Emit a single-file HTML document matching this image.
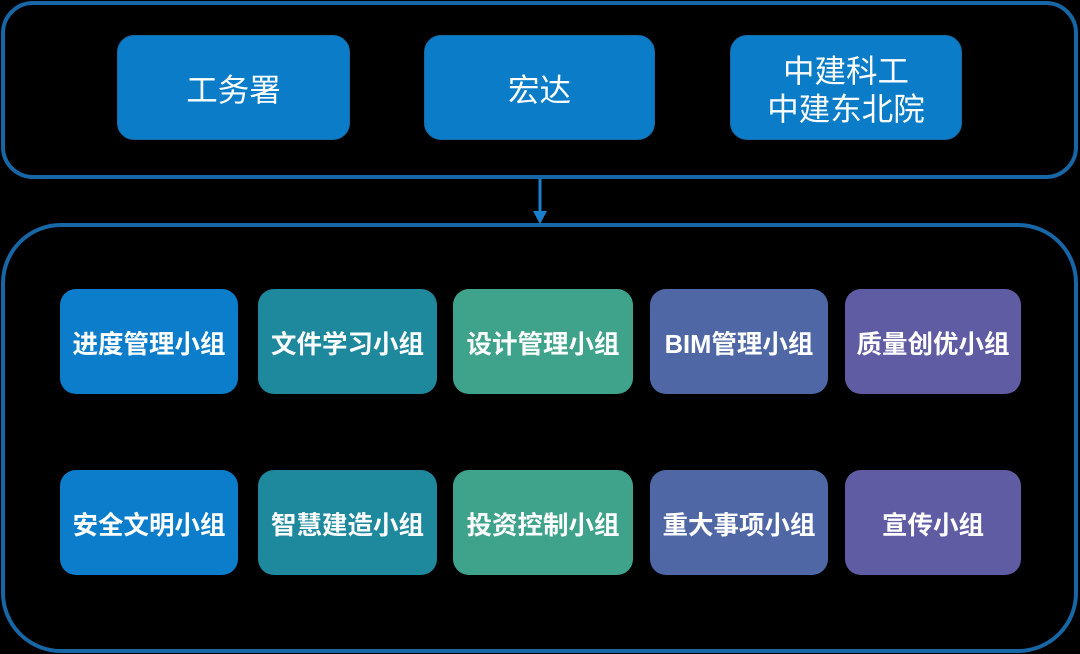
<!DOCTYPE html>
<html>
<head>
<meta charset="utf-8">
<style>
  html,body{margin:0;padding:0;background:#000;}
  body{width:1080px;height:654px;position:relative;overflow:hidden;
       font-family:"Liberation Sans","Noto Sans CJK SC",sans-serif;}
  .cont{position:absolute;box-sizing:border-box;border:4px solid #1766a6;}
  .top{left:1px;top:1px;width:1077px;height:178px;border-radius:32px;}
  .bot{left:1px;top:223px;width:1077px;height:430px;border-radius:60px;}
  .tb{position:absolute;box-sizing:border-box;top:35px;height:105px;border-radius:17px;
      background:#0a7cc8;border:1.5px solid #1a6aa6;color:#fff;padding-top:4px;
      display:flex;align-items:center;justify-content:center;text-align:center;
      font-size:31.5px;line-height:38px;font-weight:400;}
  .b{position:absolute;box-sizing:border-box;height:105px;border-radius:16px;color:#fff;
     display:flex;align-items:center;justify-content:center;padding-top:1px;
     font-size:25.5px;font-weight:700;letter-spacing:0px;}
  .r1{top:289px;}
  .r2{top:470px;}
  .c1{left:60px;width:178px;background:#0b7dca;}
  .c2{left:258px;width:179px;background:#1e889d;}
  .c3{left:453px;width:180px;background:#3fa28b;}
  .c4{left:650px;width:178px;background:#4f67a4;}
  .c5{left:845px;width:176px;background:#605ca4;}
</style>
</head>
<body>
  <div class="cont top"></div>
  <div class="cont bot"></div>

  <div class="tb" style="left:117px;width:233px;">工务署</div>
  <div class="tb" style="left:424px;width:231px;">宏达</div>
  <div class="tb" style="left:730px;width:232px;">中建科工<br>中建东北院</div>

  <svg style="position:absolute;left:0;top:0" width="1080" height="654">
    <line x1="540" y1="179" x2="540" y2="213" stroke="#1a7fcc" stroke-width="3"/>
    <polygon points="533,211 547,211 540,224" fill="#1a7fcc"/>
  </svg>

  <div class="b r1 c1">进度管理小组</div>
  <div class="b r1 c2">文件学习小组</div>
  <div class="b r1 c3">设计管理小组</div>
  <div class="b r1 c4">BIM管理小组</div>
  <div class="b r1 c5">质量创优小组</div>

  <div class="b r2 c1">安全文明小组</div>
  <div class="b r2 c2">智慧建造小组</div>
  <div class="b r2 c3">投资控制小组</div>
  <div class="b r2 c4">重大事项小组</div>
  <div class="b r2 c5">宣传小组</div>
</body>
</html>
